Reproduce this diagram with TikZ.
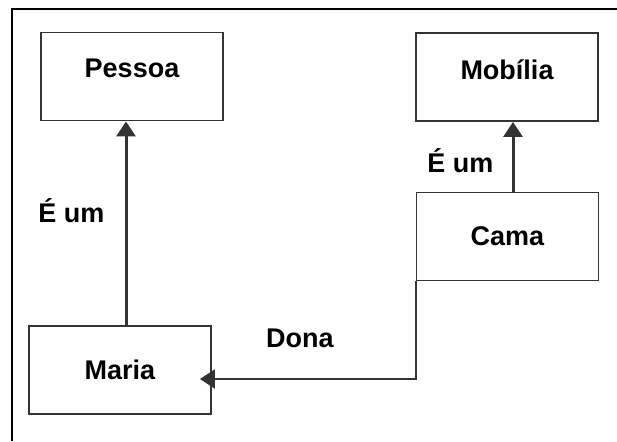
\documentclass[tikz,border=0pt]{standalone}
\usepackage{fontspec}
\setmainfont{Liberation Sans}
\usetikzlibrary{arrows.meta}
\tikzset{
    conceptnode/.style = {
        align=center,
        inner sep=0pt,
        text centered,
        font=\fontsize{13.5}{16}\selectfont\bfseries,
        rectangle,
        draw=black!80,
        line width=0.9pt,
        minimum width=91pt,
        minimum height=44pt
    },
    relation/.style = {
        draw=black!80,
        line width=1.5pt,
        -{Triangle[length=7.5pt,width=9.5pt]}
    },
    relationlabel/.style = {
        inner sep=0pt,
        font=\fontsize{13.5}{16}\selectfont\bfseries
    }
}
\begin{document}
\begin{tikzpicture}[x=0.5pt,y=-0.5pt]
            \useasboundingbox (0,0) rectangle (617,441);
            \draw [line width=1.4pt] (12,441) -- (12,9) -- (617,9);
            \node [conceptnode, text depth=8pt] (pessoa) at (132,76.5) {Pessoa};
            \node [conceptnode, text depth=7pt] (mobilia) at (507,77) {Mobília};
            \node [conceptnode] (cama) at (507.5,236.5) {Cama};
            \node [conceptnode] (maria) at (120,370) {Maria};
            \draw [relation] ([xshift=3pt]maria.north) -- ([xshift=-3pt]pessoa.south)
                node [relationlabel, pos=0.56, left=10pt] {É um};
            \draw [relation] ([xshift=2.75pt]cama.north) -- ([xshift=3pt]mobilia.south)
                node [relationlabel, pos=0.45, left=9pt] {É um};
            \draw [relation, line width=1.1pt, shorten >=-6pt] (cama.south west) |- ([yshift=-4.5pt]maria.east)
                node [relationlabel, pos=0.784, above=15pt] {Dona};
        \end{tikzpicture}
\end{document}
